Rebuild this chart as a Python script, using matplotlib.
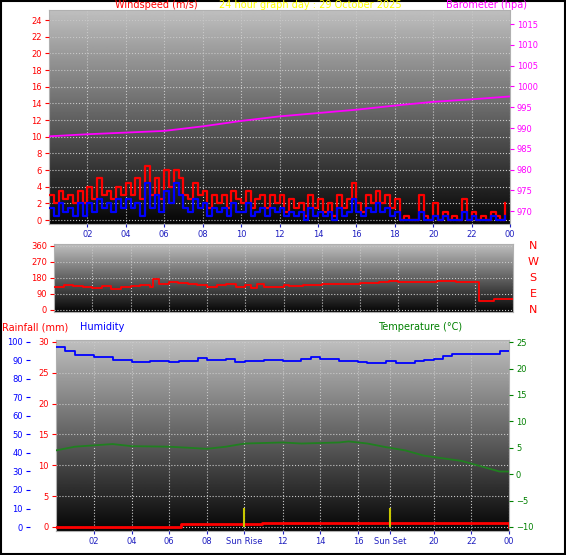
import numpy as np
import matplotlib
matplotlib.use("Agg")
import matplotlib.pyplot as plt
from matplotlib.patches import Rectangle

W, H = 566, 555
title = "24 hour graph day : 29 October 2025"
hour_labels = ["02", "04", "06", "08", "10", "12", "14", "16", "18", "20", "22", "00"]

# wind, 15-minute samples
gust = [3,2,3.5,2.5, 3,2,3.5,2, 4,2.5,5,3, 3.5,2.5,4,3,
        4.5,3,5,2.5, 6.5,3,5,2.5, 6,4,6,5, 3,2.5,4.5,3,
        3.5,1.5,3,2, 3,1.5,3.5,2.5, 2,3.5,1.5,2.5, 3,1.5,3,2,
        3,1,2.5,1.5, 2,0.5,3,1.5, 2.5,1,2,0.5, 3,1.5,2.5,4.5,
        2,1,3,2, 3.5,2,3,1.5, 2.5,0,0.5,0, 0,3,0.5,0,
        2,0,1,0, 0.5,0,2.5,0, 1,0,0.5,0, 1,0.5,0,2]
avg = [1.5,0.5,2,1, 1.5,0.5,2,0.5, 2,1,2.5,1.5, 2,1,2.5,1.5,
       2.5,1.5,2,0.5, 4.5,1.5,3,1, 3.5,2,4.5,3, 1.5,1,2.5,1.5,
       2,0.5,1.5,1, 1.5,0.5,2,1, 1,2,0.5,1, 1.5,0.5,1.5,1,
       1.5,0.5,1,0.5, 1,0,1.5,0.5, 1,0.5,1,0, 1.5,0.5,1,2.5,
       1,0.5,1.5,1, 2,1,1.5,0.5, 1,0,0,0, 0,1,0,0,
       0.5,0,0.5,0, 0,0,1,0, 0.5,0,0,0, 0.5,0,0,0.5]
baro_t = [0, 2, 4, 6, 8, 10, 12, 14, 16, 18, 20, 22, 24]
baro = [988, 988.5, 988.9, 989.3, 990.4, 991.7, 992.8, 993.6, 994.4, 995.4, 996.3, 996.9, 997.6]

dir_t = [0, 0.5, 1, 1.5, 2, 2.5, 3, 3.5, 4, 4.5, 5, 5.2, 5.5, 6, 6.5, 7, 7.5, 8, 8.5, 9, 9.5, 10,
         10.3, 10.6, 11, 12, 12.3, 13, 14, 15, 16, 17, 17.5, 18, 19, 20, 21, 22, 22.2, 23, 24]
wdir = [130, 140, 135, 130, 125, 135, 120, 130, 135, 140, 130, 175, 145, 155, 150, 145, 140, 130, 140, 145, 130, 140,
        125, 145, 130, 140, 135, 142, 145, 148, 150, 155, 165, 155, 156, 162, 158, 155, 50, 60, 60]

hum_t = [0, 0.5, 1, 2, 3, 4, 5, 6, 6.5, 7.5, 8, 9, 9.5, 10, 11, 12, 13, 13.5, 14, 15, 16, 16.5, 17.5, 18, 19, 19.5, 20, 20.5, 21, 22, 22.5, 23, 23.5, 24]
hum = [97, 95, 93, 92, 90, 89, 89.5, 89, 89.5, 91.5, 90, 90.5, 89, 89.5, 90, 89.5, 90.5, 92, 90.5, 89.5, 89, 88.5, 89.5, 88.5, 89.5, 90, 91, 92.5, 93.5, 93.5, 93.5, 93.5, 95, 95]
temp_t = [0, 1, 3, 4, 6, 8, 9, 10, 12, 13, 15, 15.5, 16.5, 17.5, 18.5, 19.5, 20.5, 21.5, 22.5, 23.5, 24]
temp = [4.5, 5.2, 5.7, 5.3, 5.2, 4.8, 5.2, 5.8, 6.0, 5.8, 6.0, 6.2, 5.8, 5.1, 4.5, 3.5, 3.0, 2.5, 1.5, 0.5, 0.5]
rain_t = [0, 6.5, 6.6, 10.8, 10.9, 23.9, 24]
rain = [0, 0, 0.5, 0.5, 0.7, 0.7, 0]
sunrise, sunset = 9.95, 17.7

fig = plt.figure(figsize=(W/100, H/100), dpi=100)
fig.patch.set_facecolor("white")
fig.add_artist(Rectangle((0.002, 0.002), 0.996, 0.996, transform=fig.transFigure,
                         fill=False, edgecolor="black", lw=1.5))

def rect(l, t, r, b):
    return [l/W, 1-b/H, (r-l)/W, (b-t)/H]

grad = np.linspace(0.75, 0.02, 256).reshape(-1, 1)

def style(ax, ylim, yticks, color):
    ax.set_xlim(0, 24)
    ax.set_ylim(*ylim)
    ax.imshow(grad, cmap="gray", vmin=0, vmax=1, aspect="auto",
              extent=[0, 24, ylim[0], ylim[1]], zorder=0)
    ax.set_yticks(yticks)
    ax.tick_params(axis="y", colors=color, labelsize=6, length=3, pad=2)
    ax.tick_params(axis="x", colors="#2020c0", labelsize=6, length=2, pad=2)
    for s in ax.spines.values():
        s.set_color("#b0b0b0")
    ax.grid(True, color="#c8c8c8", ls=":", lw=0.8)
    ax.set_axisbelow(False)
    ax.set_xticks(range(2, 25, 2))

# Panel 1: wind + barometer
ax1 = fig.add_axes(rect(49, 10, 510, 224))
style(ax1, (-0.48, 25.2), range(0, 25, 2), "red")
ax1.set_xticklabels(hour_labels)
t15 = np.arange(len(gust)) * 0.25
ax1.step(t15, gust, where="post", color="red", lw=1.6, zorder=3)
ax1.step(t15, avg, where="post", color="blue", lw=1.6, zorder=4)
ax1b = ax1.twinx()
ax1b.set_ylim(966.9, 1018.4)
ax1b.set_yticks(range(970, 1016, 5))
ax1b.tick_params(axis="y", colors="magenta", labelsize=6, length=3, pad=2)
ax1b.plot(baro_t, baro, color="magenta", lw=1.3, zorder=5)
for s in ax1b.spines.values():
    s.set_visible(False)
fig.text(115/W, 1-5/H, "Windspeed (m/s)", color="red", fontsize=7, va="center")
fig.text(310/W, 1-5/H, title, color="yellow", fontsize=7, va="center", ha="center")
fig.text(527/W, 1-5/H, "Barometer (hpa)", color="magenta", fontsize=7, va="center", ha="right")

# Panel 2: wind direction
ax2 = fig.add_axes(rect(54, 244, 513, 312))
style(ax2, (-11.25, 371), [0, 90, 180, 270, 360], "red")
ax2.set_xticklabels([])
ax2.tick_params(axis="x", length=0)
ax2.plot(dir_t, wdir, color="red", lw=1.3, drawstyle="steps-post", zorder=3)
for v, lab in zip([360, 270, 180, 90, 0], ["N", "W", "S", "E", "N"]):
    fig.text(533/W, 1-(310-v*64/360)/H, lab, color="red", fontsize=8, va="center", ha="center")

# Panel 3: rainfall, humidity, temperature
ax3 = fig.add_axes(rect(56, 340, 509, 531))
style(ax3, (-0.65, 30.3), range(0, 31, 5), "red")
ax3.set_xticks([2, 4, 6, 8, sunrise, 12, 14, 16, sunset, 20, 22, 24])
ax3.set_xticklabels(["02", "04", "06", "08", "Sun Rise", "12", "14", "16", "Sun Set", "20", "22", "00"])
ax3.step(rain_t, rain, where="post", color="red", lw=2, zorder=3)
ax3.vlines([sunrise, sunset], 0, 3, color="#c8c800", lw=1.5, zorder=4)
ax3h = fig.add_axes(rect(30, 340, 56, 531), frameon=False)
ax3h.set_ylim(-2.15, 101)
ax3h.set_xticks([])
ax3h.set_yticks(range(0, 101, 10))
ax3h.tick_params(axis="y", colors="blue", labelsize=6, length=3, pad=2)
ax3h.spines["left"].set_visible(True)
ax3h.spines["left"].set_color("blue")
ax3h.spines["left"].set_linewidth(2)
ax3hum = ax3.twinx()
ax3hum.set_ylim(-2.15, 101)
ax3hum.set_yticks([])
ax3hum.plot(hum_t, hum, color="blue", lw=1.3, drawstyle="steps-post", zorder=5)
for s in ax3hum.spines.values():
    s.set_visible(False)
ax3t = ax3.twinx()
ax3t.set_ylim(-10.76, 25.4)
ax3t.set_yticks(range(-10, 26, 5))
ax3t.tick_params(axis="y", colors="green", labelsize=6, length=3, pad=2)
ax3t.plot(temp_t, temp, color="#208020", lw=1.3, zorder=5)
for s in ax3t.spines.values():
    s.set_visible(False)
fig.text(2/W, 1-327/H, "Rainfall (mm)", color="red", fontsize=7, va="center")
fig.text(80/W, 1-327/H, "Humidity", color="blue", fontsize=7, va="center")
fig.text(378/W, 1-327/H, "Temperature (°C)", color="green", fontsize=7, va="center")

fig.savefig("out.png", dpi=100)
